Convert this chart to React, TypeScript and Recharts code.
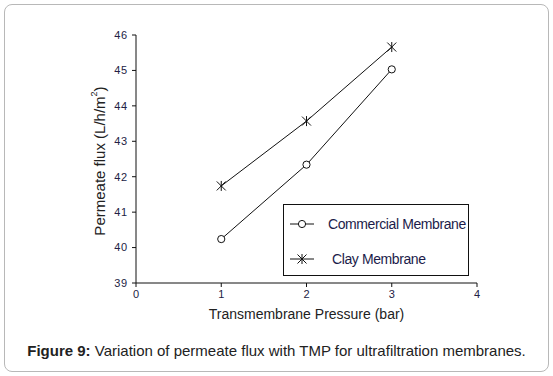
import { LineChart, Line, XAxis, YAxis, Legend } from 'recharts';

const pressure = [1, 2, 3];
const commercialFlux = [40.24, 42.34, 45.03];
const clayFlux = [41.74, 43.57, 45.66];
const xTicks = [0, 1, 2, 3, 4];
const yTicks = [39, 40, 41, 42, 43, 44, 45, 46];
const seriesNames = ['Commercial Membrane', 'Clay Membrane'];

const data = pressure.map((p, i) => ({
  pressure: p,
  commercial: commercialFlux[i],
  clay: clayFlux[i],
}));

const FONT = 'Arial, "Liberation Sans", sans-serif';

function CircleDot(props: any) {
  const { cx, cy } = props;
  if (cx == null || cy == null) return null;
  return <circle cx={cx} cy={cy} r={3.6} fill="#fff" stroke="#111" strokeWidth={1} />;
}

function StarDot(props: any) {
  const { cx, cy } = props;
  if (cx == null || cy == null) return null;
  const s = 4.5;
  return (
    <g stroke="#111" strokeWidth={1}>
      <line x1={cx} y1={cy - s - 0.5} x2={cx} y2={cy + s + 0.5} />
      <line x1={cx - s} y1={cy - s} x2={cx + s} y2={cy + s} />
      <line x1={cx + s} y1={cy - s} x2={cx - s} y2={cy + s} />
    </g>
  );
}

function LegendBox() {
  const row = (name: string, marker: 'circle' | 'star', textPad: number) => (
    <div style={{ display: 'flex', alignItems: 'center', height: 35, whiteSpace: 'nowrap' }}>
      <svg width={26} height={14} style={{ flex: 'none' }}>
        <line x1={1} y1={7} x2={25} y2={7} stroke="#111" strokeWidth={1} />
        {marker === 'circle' ? <CircleDot cx={13} cy={7} /> : <StarDot cx={13} cy={7} />}
      </svg>
      <span style={{ marginLeft: textPad, fontSize: 14, color: '#1c1c4a', letterSpacing: -0.4 }}>{name}</span>
    </div>
  );
  return (
    <div
      style={{
        width: 186,
        height: 72,
        border: '1px solid #111',
        boxSizing: 'border-box',
        padding: '1px 0 0 5px',
        fontFamily: FONT,
        background: '#fff',
        overflow: 'hidden',
      }}
    >
      {row(seriesNames[0], 'circle', 13)}
      {row(seriesNames[1], 'star', 17)}
    </div>
  );
}

function YTitle(props: any) {
  const { viewBox } = props;
  const cx = 99;
  const cy = viewBox.y + viewBox.height / 2 + 2;
  return (
    <text
      x={cx}
      y={cy}
      transform={`rotate(-90 ${cx} ${cy})`}
      textAnchor="middle"
      dominantBaseline="central"
      fontFamily={FONT}
      fontSize={15}
      fill="#222"
    >
      Permeate flux (L/h/m
      <tspan dy={-5} fontSize={9}>2</tspan>
      <tspan dy={5}>)</tspan>
    </text>
  );
}

export default function App() {
  return (
    <div style={{ position: 'absolute', left: 0, top: 0, width: 553, height: 376, background: '#fff' }}>
      <div
        style={{
          position: 'absolute',
          left: 4,
          top: 4,
          width: 545,
          height: 368,
          border: '1px solid #b8b8b8',
          borderRadius: 8,
          boxSizing: 'border-box',
        }}
      />
      <LineChart
        width={553}
        height={376}
        data={data}
        margin={{ top: 35, right: 76, bottom: 63, left: 96 }}
        style={{ position: 'absolute', left: 0, top: 0 }}
      >
        <XAxis
          dataKey="pressure"
          type="number"
          domain={[0, 4]}
          ticks={xTicks}
          height={30}
          stroke="#111"
          tickSize={4}
          tickMargin={3}
          tick={{ fontSize: 11, fill: '#222244', fontFamily: FONT }}
          label={{
            value: 'Transmembrane Pressure (bar)',
            position: 'insideBottom',
            offset: -6,
            fontSize: 14,
            fill: '#222',
            fontFamily: FONT,
          }}
        />
        <YAxis
          type="number"
          domain={[39, 46]}
          ticks={yTicks}
          width={40}
          stroke="#111"
          tickSize={4}
          tickMargin={4}
          tick={{ fontSize: 11, fill: '#222244', fontFamily: FONT, letterSpacing: 0.8 }}
          label={<YTitle />}
        />
        <Legend
          layout="vertical"
          align="center"
          verticalAlign="middle"
          content={() => <LegendBox />}
          wrapperStyle={{ position: 'absolute', left: 283, top: 204, width: 186, height: 72 }}
        />
        <Line
          type="linear"
          dataKey="commercial"
          name={seriesNames[0]}
          stroke="#111"
          strokeWidth={1}
          dot={<CircleDot />}
          activeDot={false}
          isAnimationActive={false}
        />
        <Line
          type="linear"
          dataKey="clay"
          name={seriesNames[1]}
          stroke="#111"
          strokeWidth={1}
          dot={<StarDot />}
          activeDot={false}
          isAnimationActive={false}
        />
      </LineChart>
      <div
        style={{
          position: 'absolute',
          left: 0,
          top: 342,
          width: 553,
          textAlign: 'center',
          fontFamily: FONT,
          fontSize: 15,
          color: '#222',
          whiteSpace: 'nowrap',
        }}
      >
        <b>Figure 9:</b> Variation of permeate flux with TMP for ultrafiltration membranes.
      </div>
    </div>
  );
}
